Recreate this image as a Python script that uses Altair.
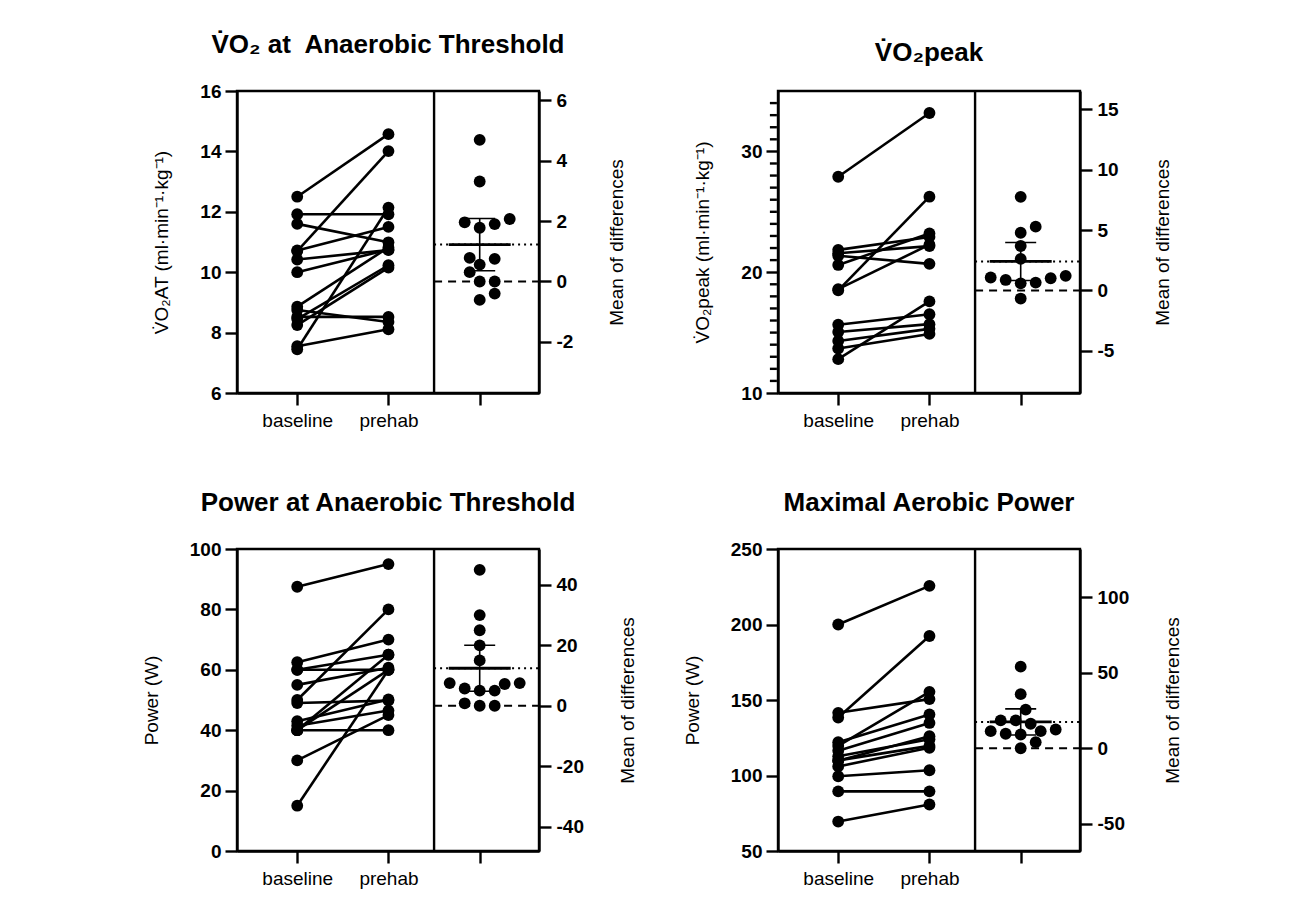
import altair as alt
import numpy as np
import pandas as pd

FONT = "Liberation Sans"

# ---------------- data ----------------
# Panel 1: VO2 at anaerobic threshold (ml/min/kg)
vo2at_baseline = [12.50, 10.70, 7.45, 11.92, 11.60, 10.72, 10.42, 10.00, 8.86, 8.52, 8.75, 8.25, 7.55, 8.45]
vo2at_prehab   = [14.57, 14.01, 12.14, 11.92, 10.99, 11.50, 10.73, 10.75, 10.82, 8.52, 8.35, 10.15, 8.11, 10.23]

# Panel 2: VO2peak (ml/min/kg)
vo2peak_baseline = [27.90, 18.50, 18.60, 20.60, 21.85, 21.57, 21.36, 12.80, 15.65, 15.05, 14.30, 13.68]
vo2peak_prehab   = [33.18, 26.25, 22.28, 23.21, 22.92, 22.16, 20.69, 17.58, 16.52, 15.70, 15.31, 14.89]

# Panel 3: Power at anaerobic threshold (W)
pat_baseline = [87.5, 15, 30, 50, 40, 40, 62.5, 60, 60, 55, 49, 40, 43, 41.5]
pat_prehab   = [95, 60, 45, 80, 65, 60, 70, 65, 60, 60.7, 49.8, 40, 50.2, 46.5]

# Panel 4: Maximal aerobic power (W)
map_baseline = [200, 138.4, 119.6, 141.5, 122, 116.4, 109.8, 112.7, 106, 99.5, 89.5, 69.5, 110]
map_prehab   = [225.6, 192.4, 155.4, 150.6, 140.4, 134.8, 126.0, 124.0, 118.4, 103.5, 89.5, 80.8, 119.6]

conditions = ["baseline", "prehab"]

# two-sided 95% t critical values by degrees of freedom
T95 = {10: 2.228, 11: 2.201, 12: 2.179, 13: 2.160, 14: 2.145}

# ---------------- layout constants ----------------
W, H = 302, 302
XDOM = [-0.66, 2.65]
DOT = 140


def swarm_offsets(values, y_px_per_unit, x_px_per_unit, diam=12.0, step=5.0):
    """Greedy beeswarm: returns x offsets (in x units) so dots barely overlap."""
    vals = np.asarray(values, dtype=float)
    order = np.argsort(vals)
    placed = []
    offs = np.zeros(len(vals))
    cands = [0.0]
    for k in range(1, 20):
        cands += [k * step, -k * step]
    for i in order:
        yp = vals[i] * y_px_per_unit
        for c in cands:
            if all((c - px) ** 2 + (yp - py) ** 2 >= diam ** 2 for px, py in placed):
                placed.append((c, yp))
                offs[i] = c / x_px_per_unit
                break
    return offs


def panel(title, ytitle, base, pre, ydomain, yticks, rticks, minor=None):
    base = np.asarray(base, float)
    pre = np.asarray(pre, float)
    n = len(base)
    diffs = pre - base
    mb = base.mean()
    md = diffs.mean()
    se = diffs.std(ddof=1) / np.sqrt(n)
    lo, hi = md - T95[n - 1] * se, md + T95[n - 1] * se
    rdomain = [ydomain[0] - mb, ydomain[1] - mb]

    long = pd.DataFrame({
        "subject": list(range(n)) * 2,
        "cond": [0] * n + [1] * n,
        "value": list(base) + list(pre),
    })

    xscale = alt.Scale(domain=XDOM, nice=False, zero=False)
    xaxis = alt.Axis(
        values=[0, 1, 2],
        labelExpr="datum.value == 0 ? 'baseline' : (datum.value == 1 ? 'prehab' : '')",
        title=None, labelFontWeight="normal", labelFontSize=19, labelPadding=6,
    )
    yscale = alt.Scale(domain=ydomain, nice=False, zero=False)
    yaxis = alt.Axis(values=yticks, title=ytitle, titlePadding=28,
                     labelExpr="toString(datum.value)")

    lines = alt.Chart(long).mark_line(color="black", strokeWidth=2.6).encode(
        x=alt.X("cond:Q", scale=xscale, axis=xaxis),
        y=alt.Y("value:Q", scale=yscale, axis=yaxis),
        detail="subject:N",
    )
    pts = alt.Chart(long).mark_circle(size=DOT, color="black", opacity=1).encode(
        x="cond:Q", y="value:Q"
    )
    left_layers = [lines, pts]
    if minor is not None:
        mdf = pd.DataFrame({"x": [XDOM[0]] * len(minor), "v": minor})
        minor_ticks = alt.Chart(mdf).mark_tick(
            orient="horizontal", size=7, thickness=2.4, color="black", opacity=1, xOffset=-4.6
        ).encode(x="x:Q", y="v:Q")
        left_layers.append(minor_ticks)
    left = alt.layer(*left_layers)

    # right (difference) part
    y_px = H / (ydomain[1] - ydomain[0])
    x_px = W / (XDOM[1] - XDOM[0])
    offs = swarm_offsets(diffs, y_px, x_px)
    ddf = pd.DataFrame({"xpos": 2 + offs, "d": diffs})

    rscale = alt.Scale(domain=rdomain, nice=False, zero=False)
    raxis = alt.Axis(orient="right", values=rticks, title="Mean of differences",
                     titleAngle=270, titlePadding=54, labelPadding=5,
                     labelExpr="toString(datum.value)")

    dpts = alt.Chart(ddf).mark_circle(size=DOT, color="black", opacity=1).encode(
        x=alt.X("xpos:Q"),
        y=alt.Y("d:Q", scale=rscale, axis=raxis),
    )
    ref = pd.DataFrame({"x": [1.5, 1.5], "x2": [XDOM[1], XDOM[1]], "y": [0.0, md], "kind": ["zero", "mean"]})
    zero_rule = alt.Chart(ref[ref.kind == "zero"]).mark_rule(
        color="black", strokeWidth=2, strokeDash=[8, 6]
    ).encode(x="x:Q", x2="x2:Q", y="y:Q")
    mean_rule = alt.Chart(ref[ref.kind == "mean"]).mark_rule(
        color="black", strokeWidth=2, strokeDash=[2, 4]
    ).encode(x="x:Q", x2="x2:Q", y="y:Q")

    stat = pd.DataFrame({"x": [2.0], "mean": [md], "lo": [lo], "hi": [hi]})
    ci = alt.Chart(stat).mark_rule(color="black", strokeWidth=1.6).encode(
        x="x:Q", y="lo:Q", y2="hi:Q")
    cap_lo = alt.Chart(stat).mark_tick(orient="horizontal", size=31, thickness=1.6,
                                       color="black", opacity=1).encode(x="x:Q", y="lo:Q")
    cap_hi = alt.Chart(stat).mark_tick(orient="horizontal", size=31, thickness=1.6,
                                       color="black", opacity=1).encode(x="x:Q", y="hi:Q")
    mean_bar = alt.Chart(stat).mark_tick(orient="horizontal", size=62, thickness=2.8,
                                         color="black", opacity=1).encode(x="x:Q", y="mean:Q")
    right = alt.layer(zero_rule, mean_rule, dpts, ci, cap_lo, cap_hi, mean_bar)

    divider = alt.Chart(pd.DataFrame({"x": [1.5]})).mark_rule(
        color="black", strokeWidth=2.4).encode(x="x:Q")

    return alt.layer(left, right, divider).resolve_scale(y="independent").properties(
        width=W, height=H,
        title=alt.TitleParams(title, fontSize=26, font=FONT, fontWeight="bold",
                              anchor="middle", offset=24, frame="group", color="black"),
    )


VO2 = "V\u0307O\u2082"
UNIT = " (ml\u00b7min\u207b\u00b9\u00b7kg\u207b\u00b9)"

p1 = panel(VO2 + " at\u00a0 Anaerobic Threshold", VO2 + "AT" + UNIT,
           vo2at_baseline, vo2at_prehab, [6, 16], [6, 8, 10, 12, 14, 16], [-2, 0, 2, 4, 6])
p2 = panel(VO2 + "peak", VO2 + "peak" + UNIT,
           vo2peak_baseline, vo2peak_prehab, [10, 35], [10, 20, 30], [-5, 0, 5, 10, 15],
           minor=[v for v in range(11, 35) if v % 10 != 0])
p3 = panel("Power at Anaerobic Threshold", "Power (W)",
           pat_baseline, pat_prehab, [0, 100], [0, 20, 40, 60, 80, 100], [-40, -20, 0, 20, 40])
p4 = panel("Maximal Aerobic Power", "Power (W)",
           map_baseline, map_prehab, [50, 250], [50, 100, 150, 200, 250], [-50, 0, 50, 100])

chart = alt.concat(
    p1, p2, p3, p4, columns=2, spacing={"row": 156, "column": 239}, bounds="flush"
).properties(
    padding={"left": 133, "top": 22, "right": 5, "bottom": 5},
    background="white",
).configure_view(
    stroke="black", strokeWidth=2.4
).configure_axis(
    domainColor="black", domainWidth=2.4, tickColor="black", tickWidth=2.4, tickSize=12,
    labelFont=FONT, labelFontSize=19, labelFontWeight="bold", labelColor="black",
    labelPadding=4, titleFont=FONT, titleFontSize=19, titleFontWeight="normal",
    titleColor="black", grid=False,
)

chart.save("out.html", embed_options={"renderer": "svg", "actions": False})
